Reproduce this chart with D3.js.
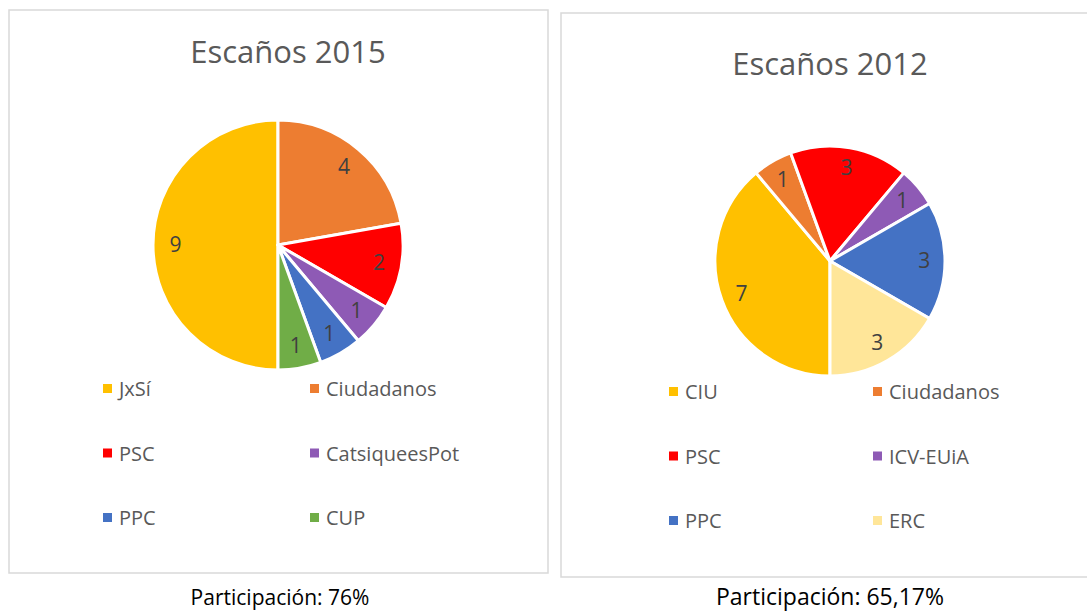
<!DOCTYPE html>
<html>
<head>
<meta charset="utf-8">
<script src="https://cdn.jsdelivr.net/npm/d3@7"></script>
<style>
  body { margin: 0; background: #fff; }
  text { font-family: "Open Sans", "Noto Sans", sans-serif; }
</style>
</head>
<body>
<div id="canvas"></div>
<script>
// data
const parties2015 = ["JxSí", "Ciudadanos", "PSC", "CatsiqueesPot", "PPC", "CUP"];
const seats2015 = [9, 4, 2, 1, 1, 1];
const parties2012 = ["CIU", "Ciudadanos", "PSC", "ICV-EUiA", "PPC", "ERC"];
const seats2012 = [7, 1, 3, 1, 3, 3];
const titles = ["Escaños 2015", "Escaños 2012"];
const turnout = ["Participación: 76%", "Participación: 65,17%"];

const partyColor = {
  "JxSí": "#FFC000", "CIU": "#FFC000",
  "Ciudadanos": "#ED7D31",
  "PSC": "#FF0000",
  "CatsiqueesPot": "#8E5AB5", "ICV-EUiA": "#8E5AB5",
  "PPC": "#4472C4",
  "CUP": "#70AD47",
  "ERC": "#FFE699"
};

const w = 1087, h = 614;
const svg = d3.select("#canvas").append("svg")
  .attr("width", w).attr("height", h);

const panels = [
  { parties: parties2015, seats: seats2015, box: {x: 9, y: 10, w: 539, h: 563},
    cx: 278, cy: 245, r: 125, legY: 389, legDy: 64.5, col1: 103, col2: 310,
    titleX: 288, titleY: 63, bottomX: 280, bottomSize: 21 },
  { parties: parties2012, seats: seats2012, box: {x: 561, y: 13, w: 540, h: 564},
    cx: 830, cy: 261, r: 115, legY: 392, legDy: 64.5, col1: 669, col2: 873,
    titleX: 830, titleY: 75, bottomX: 830, bottomSize: 23 }
];

panels.forEach(function(p, k) {
  const g = svg.append("g");

  g.append("rect")
    .attr("x", p.box.x).attr("y", p.box.y)
    .attr("width", p.box.w).attr("height", p.box.h)
    .attr("fill", "#fff")
    .attr("stroke", "#d9d9d9").attr("stroke-width", 1.5);

  g.append("text")
    .attr("x", p.titleX).attr("y", p.titleY)
    .attr("text-anchor", "middle")
    .attr("font-size", 31)
    .attr("fill", "#595959")
    .text(titles[k]);

  const data = p.parties.map(function(d, i) { return { party: d, seats: p.seats[i] }; });

  // first slice angle 180 deg, like the original
  const pie = d3.pie().sort(null).value(d => d.seats)
    .startAngle(Math.PI).endAngle(3 * Math.PI);
  const arc = d3.arc().innerRadius(0).outerRadius(p.r);
  const labelArc = d3.arc().innerRadius(p.r * 0.82).outerRadius(p.r * 0.82);

  const slices = g.append("g")
    .attr("transform", "translate(" + p.cx + "," + p.cy + ")")
    .selectAll("g")
    .data(pie(data))
    .enter().append("g");

  slices.append("path")
    .attr("d", arc)
    .attr("fill", d => partyColor[d.data.party])
    .attr("stroke", "#fff")
    .attr("stroke-width", 3)
    .attr("stroke-linejoin", "round");

  slices.append("text")
    .attr("transform", d => "translate(" + labelArc.centroid(d) + ")")
    .attr("text-anchor", "middle")
    .attr("dy", "0.35em")
    .attr("font-size", 21)
    .attr("fill", "#404040")
    .text(d => d.data.seats);

  // legend, 2 columns x 3 rows
  const leg = g.selectAll(".leg")
    .data(data)
    .enter().append("g")
    .attr("transform", function(d, i) {
      const x = i % 2 === 0 ? p.col1 : p.col2;
      const y = p.legY + Math.floor(i / 2) * p.legDy;
      return "translate(" + x + "," + y + ")";
    });

  leg.append("rect")
    .attr("x", 0).attr("y", -5)
    .attr("width", 9).attr("height", 9)
    .attr("fill", d => partyColor[d.party]);

  leg.append("text")
    .attr("x", 16).attr("dy", "0.35em")
    .attr("font-size", 20)
    .attr("fill", "#595959")
    .text(d => d.party);

  svg.append("text")
    .attr("x", p.bottomX).attr("y", 605)
    .attr("text-anchor", "middle")
    .attr("font-size", p.bottomSize)
    .attr("fill", "#000")
    .text(turnout[k]);
});
</script>
</body>
</html>
